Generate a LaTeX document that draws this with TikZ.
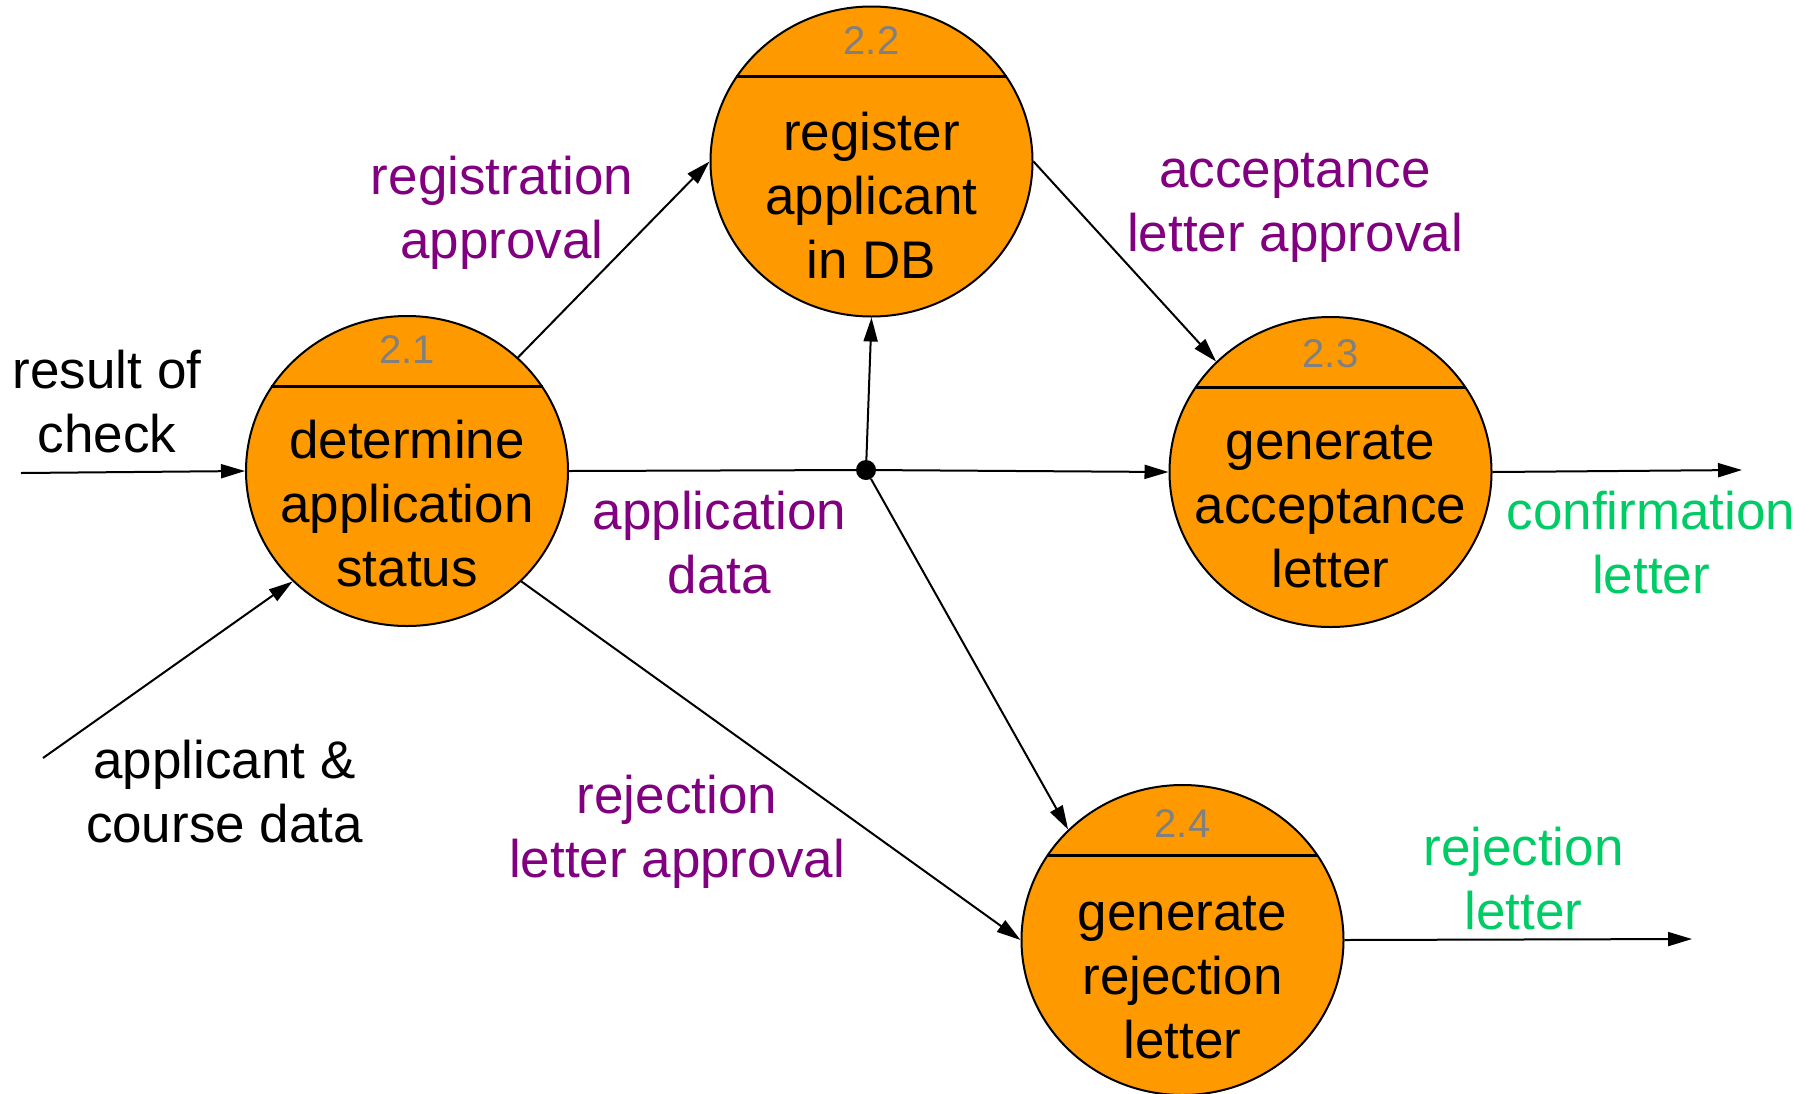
\documentclass[tikz,border=0pt]{standalone}
\usepackage{fontspec}
\setmainfont{Liberation Sans}
\usetikzlibrary{shapes.geometric,arrows.meta}
\definecolor{procorange}{RGB}{255,153,0}
\definecolor{flowpurple}{RGB}{128,0,128}
\definecolor{outgreen}{RGB}{0,204,102}
\definecolor{numgray}{RGB}{128,128,128}
\begin{document}
\begin{tikzpicture}[x=1pt,y=-1pt,
  proc/.style={ellipse, draw, line width=2pt, fill=procorange, minimum width=322pt, minimum height=310pt, inner sep=0pt},
  num/.style={text=numgray, font=\fontsize{40}{48}\selectfont, inner sep=0pt},
  body/.style={align=center, font=\fontsize{53}{64}\selectfont, inner sep=0pt},
  flowlbl/.style={body, text=flowpurple},
  outlbl/.style={body, text=outgreen},
  flow/.style={line width=2pt, -{Triangle[length=24pt,width=14pt]}},
  divider/.style={line width=3pt}]
\useasboundingbox (0,0) rectangle (1814,1093);
\fill[white] (0,0) rectangle (1814,1093);
% processes
\node[proc] (p21) at (407,471) {};
\node[proc] (p22) at (871.5,161.5) {};
\node[proc] (p23) at (1330.5,472) {};
\node[proc] (p24) at (1182.5,940) {};
\draw[divider] (p21.148) -- (p21.32);
\draw[divider] (p22.148) -- (p22.32);
\draw[divider] (p23.148) -- (p23.32);
\draw[divider] (p24.148) -- (p24.32);
\node[num] (n21) at (407,350) {2.1};
\node[num] (n22) at (871.5,41) {2.2};
\node[num] (n23) at (1330.5,354) {2.3};
\node[num] (n24) at (1182.5,824) {2.4};
\node[body] (t21) at (407,504) {determine\\application\\status};
\node[body] (t22) at (871.5,195) {register\\applicant\\in DB};
\node[body] (t23) at (1330.5,507) {generate\\acceptance\\letter};
\node[body] (t24) at (1182.5,977.5) {generate\\rejection\\letter};
% junction
\node[circle, fill=black, inner sep=0pt, minimum size=20pt] (j) at (866,470) {};
% free ends
\coordinate (in1) at (21,473);
\coordinate (in2) at (43,758);
\coordinate (o1) at (1742,470);
\coordinate (o2) at (1692,939);
% flows
\draw[flow] (in1) -- (p21.west);
\draw[flow] (in2) -- (p21.-136);
\draw[flow] (p21) -- (p22.west);
\draw[line width=2pt] (p21.east) -- (j);
\draw[flow] (j) -- (p22.south);
\draw[flow] (j) -- (p23.west);
\draw[flow] (j) -- (p24.136);
\draw[flow] (p21.-44) -- (p24.west);
\draw[flow] (p22.east) -- (p23.136);
\draw[flow] (p23.east) -- (o1);
\draw[flow] (p24.east) -- (o2);
% labels
\node[body] (l1) at (107,402) {result of\\check};
\node[body] (l2) at (224.5,791.5) {applicant \&\\course data};
\node[flowlbl] (l3) at (502,212.5) {registration\\approval};
\node[flowlbl] (l4) at (1295,208) {acceptance\\letter approval};
\node[flowlbl] (l5) at (719.5,542.5) {application\\data};
\node[flowlbl] (l6) at (677,832) {rejection\\letter approval};
\node[outlbl] (l7) at (1651,542.5) {confirmation\\letter};
\node[outlbl] (l8) at (1523.5,879) {rejection\\letter};
\end{tikzpicture}
\end{document}
